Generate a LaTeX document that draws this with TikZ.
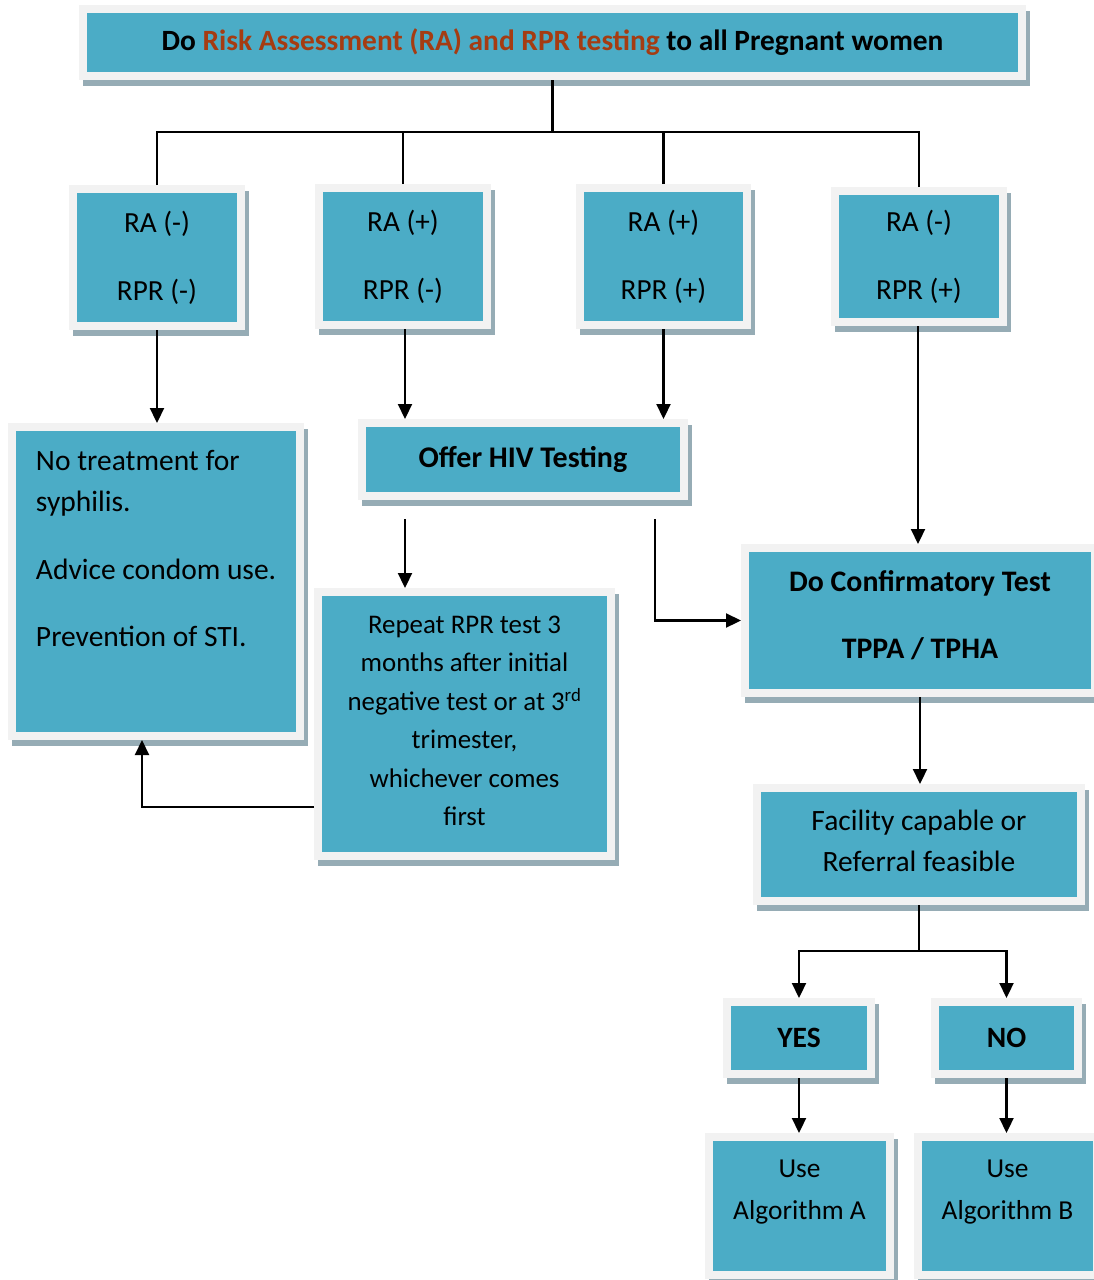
\documentclass[tikz,border=0pt]{standalone}
\usepackage{fontspec}
\setmainfont{Carlito}
\usetikzlibrary{arrows.meta,shadows,calc}
\definecolor{tealfill}{HTML}{4BACC6}
\definecolor{framegray}{HTML}{F2F2F2}
\definecolor{shadecol}{HTML}{96ACB5}
\definecolor{orangetxt}{HTML}{A53C12}
\newcommand{\myfs}[2]{\fontsize{#1}{#2}\selectfont}
\tikzset{
  box/.style={fill=tealfill, draw=framegray, line width=8pt, inner sep=0pt, align=center, text=black,
    drop shadow={shadow xshift=4pt, shadow yshift=-6pt, fill=shadecol, draw=shadecol, opacity=1}},
  conn/.style={draw=black, line width=2.2pt},
  arr/.style={conn, -{Triangle[length=15pt,width=14pt]}}
}
\begin{document}
\begin{tikzpicture}[x=1pt,y=-1pt]
\useasboundingbox (0,0) rectangle (1094,1280);
% nodes
\node[box, minimum width=939pt, minimum height=67pt, font={\myfs{29.4}{34}\bfseries}] (top) at (552.5,42.5)
  {Do \textcolor{orangetxt}{Risk Assessment (RA) and RPR testing} to all Pregnant women};
\node[box, minimum width=168pt, minimum height=137pt, font={\myfs{29.2}{34}}] (b1) at (157,257.5) {RA (-)\\[34pt]RPR (-)};
\node[box, minimum width=168pt, minimum height=137pt, font={\myfs{29.2}{34}}] (b2) at (403,256.5) {RA (+)\\[34pt]RPR (-)};
\node[box, minimum width=167pt, minimum height=137pt, font={\myfs{29.2}{34}}] (b3) at (663.5,256.5) {RA (+)\\[34pt]RPR (+)};
\node[box, minimum width=168pt, minimum height=131pt, font={\myfs{29.2}{34}}] (b4) at (919,256.5) {RA (-)\\[34pt]RPR (+)\\[-31pt]\mbox{}};
\node[box, minimum width=288pt, minimum height=309pt] (notreat) at (156,581.5)
  {\parbox[c][263pt][t]{280pt}{\myfs{29.5}{41}\leftskip=20pt\relax
   No treatment for\par syphilis.\par\vspace{27pt}Advice condom use.\par\vspace{26pt}Prevention of STI.\par}};
\node[box, minimum width=322pt, minimum height=73pt, font={\myfs{30}{34}\bfseries}] (hiv) at (523,459.5) {Offer HIV Testing};
\node[box, minimum width=293pt, minimum height=264pt, font={\myfs{26.9}{38.5}}] (repeat) at (464.5,724)
  {Repeat RPR test 3\\months after initial\\negative test or at 3\textsuperscript{rd}\\trimester,\\whichever comes\\first\\[-32.5pt]\mbox{}};
\node[box, minimum width=350pt, minimum height=145pt, font={\myfs{29.8}{35}\bfseries}] (confirm) at (920,620.5)
  {Do Confirmatory Test\\[32pt]TPPA / TPHA\\[-23pt]\mbox{}};
\node[box, minimum width=324pt, minimum height=113pt, font={\myfs{29.5}{41}}] (facility) at (919,844.5)
  {Facility capable or\\Referral feasible\\[-33pt]\mbox{}};
\node[box, minimum width=144pt, minimum height=72pt, font={\myfs{29.5}{34}\bfseries}] (yes) at (799,1038) {YES};
\node[box, minimum width=143pt, minimum height=72pt, font={\myfs{29.5}{34}\bfseries}] (no) at (1006.5,1038) {NO};
\node[box, minimum width=181pt, minimum height=138pt, font={\myfs{27.4}{42}}] (algA) at (799.5,1206) {Use\\Algorithm A\\[-10pt]\mbox{}};
\node[box, minimum width=179pt, minimum height=138pt, font={\myfs{27.4}{42}}] (algB) at (1007.5,1206) {Use\\Algorithm B\\[-10pt]\mbox{}};
% connectors
\coordinate (tj) at (552.5,132);
\draw[conn] (top.south) -- (tj);
\draw[conn] (b1.north) |- (tj);
\draw[conn] (b2.north) |- (tj);
\draw[conn] (b3.north) |- (tj);
\draw[conn] (b4.north) |- (tj);
\draw[arr] (b1.south) -- (b1.south |- notreat.north);
\draw[arr] ([xshift=2pt]b2.south) -- ([xshift=2pt]b2.south |- hiv.north);
\draw[arr] (b3.south) -- (b3.south |- hiv.north);
\draw[arr] ([xshift=-1pt]b4.south) -- ([xshift=-1pt]b4.south |- confirm.north);
\draw[arr, shorten <=19pt] ([xshift=-118pt]hiv.south) -- ([xshift=-118pt]hiv.south |- repeat.north);
\draw[arr, shorten <=19pt] ([xshift=132pt]hiv.south) |- (confirm.west);
\draw[arr] ([yshift=-83pt]repeat.west) -| ([xshift=-14pt]notreat.south);
\draw[arr] (confirm.south) -- (confirm.south |- facility.north);
\coordinate (fj) at (919,951);
\draw[conn] (facility.south) -- (fj);
\draw[arr] (fj) -| (yes.north);
\draw[arr] (fj) -| (no.north);
\draw[arr] (yes.south) -- (yes.south |- algA.north);
\draw[arr] (no.south) -- (no.south |- algB.north);
\end{tikzpicture}
\end{document}
